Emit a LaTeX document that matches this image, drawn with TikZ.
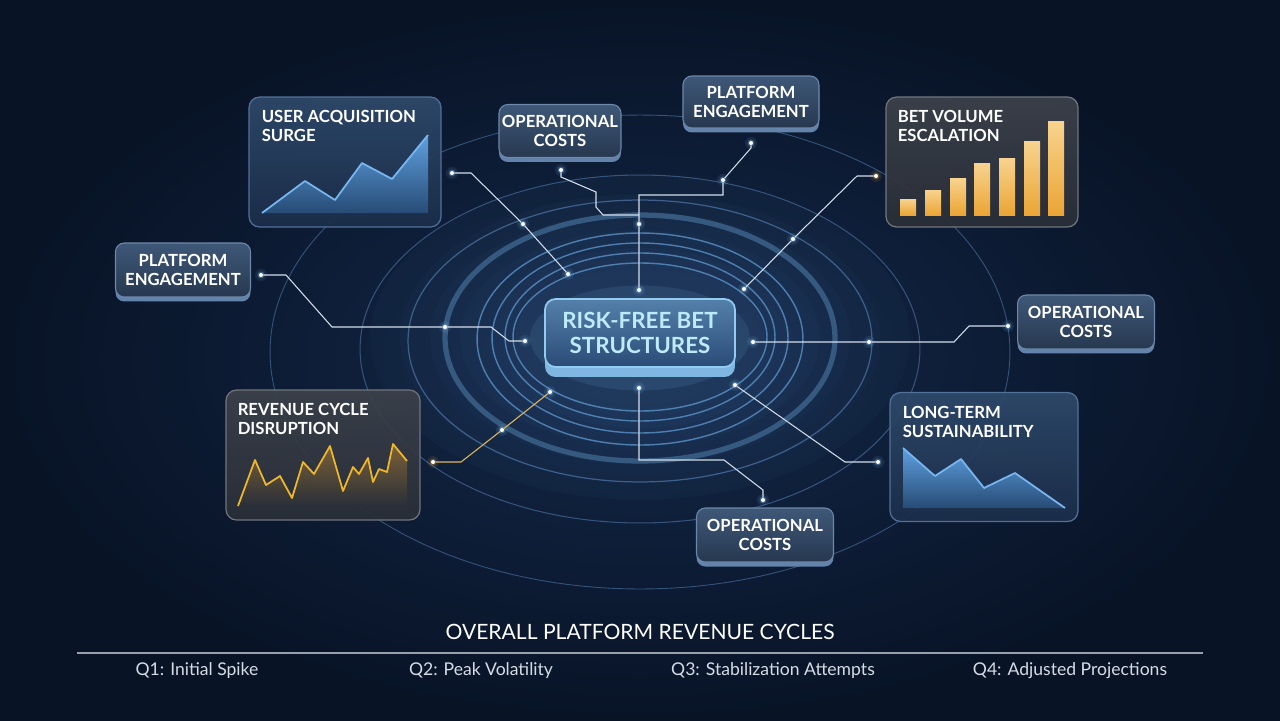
\documentclass[tikz,border=0pt]{standalone}
\usepackage{fontspec}
\setmainfont{Lato}
\usetikzlibrary{positioning}

\definecolor{bgdark}{HTML}{081326}
\definecolor{bgmid}{HTML}{14294A}
\definecolor{tagtop}{HTML}{3F5878}
\definecolor{tagbot}{HTML}{26384F}
\definecolor{tagedge}{HTML}{6C88AA}
\definecolor{tagbase}{HTML}{6383AA}
\definecolor{glasstop}{HTML}{2F4A6B}
\definecolor{glassbot}{HTML}{1B2E4A}
\definecolor{glassedge}{HTML}{52719A}
\definecolor{slatetop}{HTML}{3D424B}
\definecolor{slatebot}{HTML}{2A2F38}
\definecolor{slateedge}{HTML}{71757D}
\definecolor{coretop}{HTML}{5480AA}
\definecolor{corebot}{HTML}{2A4C77}
\definecolor{coreedge}{HTML}{93CCF2}
\definecolor{corebase}{HTML}{7FB6E2}
\definecolor{coretext}{HTML}{BFEAFB}
\definecolor{ringblue}{HTML}{5A92C8}
\definecolor{ringthick}{HTML}{36597F}
\definecolor{ringfaint}{HTML}{34547C}
\definecolor{wirewhite}{HTML}{D3DEEA}
\definecolor{wiregold}{HTML}{E0B85A}
\definecolor{sparkglow}{HTML}{8CCBFF}
\definecolor{chartblue}{HTML}{4A9DEB}
\definecolor{gold}{HTML}{EBA534}
\definecolor{goldlight}{HTML}{F8D38F}
\definecolor{footgrey}{HTML}{D5DCE4}

\tikzset{
  tagbox/.style={rounded corners=5pt, draw=tagedge, line width=0.6pt,
    top color=tagtop, bottom color=tagbot, text=white, align=center,
    inner sep=0pt, font=\bfseries\fontsize{9.5}{10.8}\selectfont,
    preaction={fill=tagbase, transform canvas={yshift=-0.9mm}}},
  chartbox/.style={rounded corners=6pt, draw=glassedge, line width=0.7pt,
    top color=glasstop, bottom color=glassbot, fill opacity=0.92},
  slatebox/.style={chartbox, draw=slateedge, top color=slatetop, bottom color=slatebot},
  charttitle/.style={text=white, align=left, inner sep=0pt, anchor=north west,
    font=\bfseries\fontsize{9.5}{10.8}\selectfont},
  corebox/.style={rounded corners=6pt, draw=coreedge, line width=1pt,
    top color=coretop, bottom color=corebot, text=coretext, align=center,
    font=\bfseries\fontsize{12.7}{14.5}\selectfont,
    preaction={fill=corebase, transform canvas={yshift=-2mm}}},
  ring/.style={draw=ringblue, line width=0.8pt, opacity=0.8},
  wire/.style={draw=wirewhite, line width=0.6pt},
  goldwire/.style={draw=wiregold, line width=0.6pt},
  spark/.style={circle, fill=white, inner sep=0pt, minimum size=2.3pt},
  foot/.style={text=footgrey, font=\fontsize{10}{12}\selectfont},
}

% glowing dot: [glow colour]{name}{position}
\newcommand{\sparkat}[3][sparkglow]{%
  \fill[#1, opacity=0.10] (#3) circle (3.4pt);
  \fill[#1, opacity=0.30] (#3) circle (2pt);
  \node[spark] (#2) at (#3) {};}

\begin{document}
\begin{tikzpicture}[x=0.02cm, y=-0.02cm]
  \useasboundingbox (0,0) rectangle (1280,720);
  % background
  \shade[inner color=bgmid, outer color=bgdark] (0,0) rectangle (1280,720);
  \foreach \r in {5.4,4.8,4.2,3.6,3.0,2.5}
    \fill[sparkglow, opacity=0.022] (640,338) ellipse [x radius=\r cm, y radius=0.6*\r cm];
  % rings
  \draw[ringfaint, line width=0.5pt] (640,352) ellipse [x radius=7.4cm, y radius=4.74cm];
  \draw[ringfaint, line width=0.6pt] (640,349) ellipse [x radius=5.6cm, y radius=3.48cm];
  \draw[ringfaint!80!ringblue, line width=0.7pt] (640,341) ellipse [x radius=4.64cm, y radius=2.82cm];
  \draw[ringthick, line width=3pt] (640,338) ellipse [x radius=3.9cm, y radius=2.46cm];
  \draw[ring] (640,339) ellipse [x radius=3.26cm, y radius=2.12cm];
  \draw[ring] (640,338) ellipse [x radius=2.96cm, y radius=1.9cm];
  \draw[ring] (640,337) ellipse [x radius=2.7cm, y radius=1.68cm];
  \draw[ring] (640,337) ellipse [x radius=2.54cm, y radius=1.48cm];

  % sparks
  \sparkat{ua-end}{452,173}
  \sparkat{ua-mid}{523,224}
  \sparkat{ua-in}{568,274}
  \sparkat{ot-end}{561,170}
  \sparkat{pt-end}{751,143}
  \sparkat{pt-mid}{723,180}
  \sparkat{top-mid}{639,224}
  \sparkat{top-in}{639,290}
  \sparkat[gold]{bv-end}{876,176}
  \sparkat{bv-mid}{793,239}
  \sparkat{bv-in}{744,289}
  \sparkat{pl-end}{261,275}
  \sparkat{pl-mid}{445,327}
  \sparkat{pl-in}{525,341}
  \sparkat{or-end}{1008,326}
  \sparkat{or-mid}{869,342}
  \sparkat{or-in}{753,342}
  \sparkat[gold]{rc-end}{433,462}
  \sparkat{rc-mid}{502,430}
  \sparkat{rc-in}{550,392}
  \sparkat{ob-end}{763,500}
  \sparkat{ob-in}{639,388}
  \sparkat{lt-end}{878,462}
  \sparkat{lt-in}{735,385}

  % bends
  \coordinate (ua-b) at (471,173);
  \coordinate (ot-b1) at (561,177);
  \coordinate (ot-b2) at (596,192);
  \coordinate (ot-b3) at (596,207);
  \coordinate (ot-b4) at (603,215);
  \coordinate (ot-join) at (639,215);
  \coordinate (pt-b1) at (751,148);
  \coordinate (pt-b2) at (723,195);
  \coordinate (pt-join) at (639,195);
  \coordinate (bv-b) at (857,176);
  \coordinate (pl-b1) at (286,275);
  \coordinate (pl-b2) at (332,327);
  \coordinate (pl-b3) at (491,327);
  \coordinate (pl-b4) at (509,341);
  \coordinate (or-b1) at (969,326);
  \coordinate (or-b2) at (954,342);
  \coordinate (rc-b) at (461,462);
  \coordinate (ob-b1) at (763,490);
  \coordinate (ob-b2) at (724,460);
  \coordinate (ob-b3) at (639,460);
  \coordinate (lt-b) at (845,462);

  % wires
  \draw[wire] (ua-end) -- (ua-b) -- (ua-mid) -- (ua-in);
  \draw[wire] (ot-end) -- (ot-b1) -- (ot-b2) -- (ot-b3) -- (ot-b4) -- (ot-join);
  \draw[wire] (pt-end) -- (pt-b1) -- (pt-mid) -- (pt-b2) -- (pt-join) -- (top-mid) -- (top-in);
  \draw[wire] (bv-end) -- (bv-b) -- (bv-mid) -- (bv-in);
  \draw[wire] (pl-end) -- (pl-b1) -- (pl-b2) -- (pl-mid) -- (pl-b3) -- (pl-b4) -- (pl-in);
  \draw[wire] (or-end) -- (or-b1) -- (or-b2) -- (or-mid) -- (or-in);
  \draw[goldwire] (rc-end) -- (rc-b) -- (rc-mid) -- (rc-in);
  \draw[wire] (ob-end) -- (ob-b1) -- (ob-b2) -- (ob-b3) -- (ob-in);
  \draw[wire] (lt-end) -- (lt-b) -- (lt-in);

  % centre
  \fill[sparkglow, opacity=0.10] (640,338) ellipse [x radius=2.2cm, y radius=1.05cm];
  \node[corebox, minimum width=3.8cm, minimum height=1.36cm] (core) at (640,333) {RISK-FREE BET\\STRUCTURES};

  % label boxes
  \node[tagbox, minimum width=2.44cm, minimum height=1.06cm] (optop) at (560,131) {OPERATIONAL\\COSTS};
  \node[tagbox, minimum width=2.72cm, minimum height=1.04cm] (engtop) at (751,102) {PLATFORM\\ENGAGEMENT};
  \node[tagbox, minimum width=2.7cm, minimum height=1.08cm] (engleft) at (183,270) {PLATFORM\\ENGAGEMENT};
  \node[tagbox, minimum width=2.74cm, minimum height=1.08cm] (opright) at (1086,322) {OPERATIONAL\\COSTS};
  \node[tagbox, minimum width=2.74cm, minimum height=1.08cm] (opbottom) at (765,535) {OPERATIONAL\\COSTS};

  % user acquisition
  \node[chartbox, minimum width=3.84cm, minimum height=2.6cm] (ua) at (345,162) {};
  \node[charttitle] (ua-title) at ([shift={(13,14)}]ua.north west) {USER ACQUISITION\\SURGE};
  \shade[top color=chartblue!85!white, bottom color=chartblue!30!glassbot, opacity=0.9]
    (262,213) -- (305,181) -- (335,200) -- (362,163) -- (392,179) -- (428,135) -- (428,213) -- cycle;
  \draw[chartblue!75!white, line width=1pt, line join=round]
    (262,213) -- (305,181) -- (335,200) -- (362,163) -- (392,179) -- (428,135);

  % bet volume
  \node[slatebox, minimum width=3.84cm, minimum height=2.6cm] (bv) at (982,162) {};
  \node[charttitle] (bv-title) at ([shift={(12,14)}]bv.north west) {BET VOLUME\\ESCALATION};
  \foreach \x/\t in {900/199, 925/190, 950/178, 974/163, 999/158, 1024/141, 1048/121}
    \shade[top color=goldlight, bottom color=gold] (\x,\t) rectangle (\x+16,215);

  % revenue cycle
  \node[slatebox, minimum width=3.88cm, minimum height=2.6cm] (rc) at (323,455) {};
  \node[charttitle] (rc-title) at ([shift={(12,14)}]rc.north west) {REVENUE CYCLE\\DISRUPTION};
  \shade[top color=gold!50!slatebot, bottom color=slatebot, opacity=0.85]
    (238,506) -- (255,460) -- (266,485) -- (280,476) -- (292,498) -- (303,462) -- (314,474)
    -- (330,446) -- (343,491) -- (353,467) -- (359,474) -- (368,458) -- (373,482) -- (379,469)
    -- (387,472) -- (393,444) -- (407,461) -- (407,506) -- cycle;
  \draw[gold!80!yellow, line width=1pt, line join=round]
    (238,506) -- (255,460) -- (266,485) -- (280,476) -- (292,498) -- (303,462) -- (314,474)
    -- (330,446) -- (343,491) -- (353,467) -- (359,474) -- (368,458) -- (373,482) -- (379,469)
    -- (387,472) -- (393,444) -- (407,461);

  % long-term
  \node[chartbox, minimum width=3.76cm, minimum height=2.58cm] (lt) at (984,457) {};
  \node[charttitle] (lt-title) at ([shift={(13,14)}]lt.north west) {LONG-TERM\\SUSTAINABILITY};
  \shade[top color=chartblue!85!white, bottom color=chartblue!30!glassbot, opacity=0.9]
    (903,448) -- (935,476) -- (961,459) -- (984,488) -- (1015,473) -- (1065,508) -- (903,508) -- cycle;
  \draw[chartblue!75!white, line width=1pt, line join=round]
    (903,448) -- (935,476) -- (961,459) -- (984,488) -- (1015,473) -- (1065,508);

  % footer
  \node[text=white, font=\fontsize{12}{14}\selectfont] (foot-title) at (640,632) {OVERALL PLATFORM REVENUE CYCLES};
  \draw[footgrey!70!bgdark, line width=0.8pt] (77,653) -- (1203,653);
  \node[foot] (q1) at (197,671) {Q1: Initial Spike};
  \node[foot] (q2) at (481,671) {Q2: Peak Volatility};
  \node[foot] (q3) at (773,671) {Q3: Stabilization Attempts};
  \node[foot] (q4) at (1070,671) {Q4: Adjusted Projections};
\end{tikzpicture}
\end{document}
